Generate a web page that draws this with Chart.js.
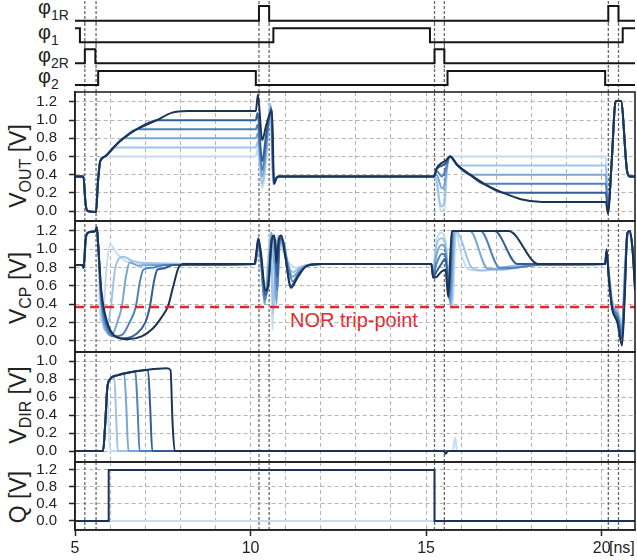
<!DOCTYPE html>
<html>
<head>
<meta charset="utf-8">
<script src="https://cdn.jsdelivr.net/npm/chart.js@4.4.1/dist/chart.umd.min.js"></script>
<style>
body { margin: 0; background: #fff; }
#fig { position: relative; width: 637px; height: 560px; overflow: hidden; font-family: 'Liberation Sans', Arial, sans-serif; color: #222; }
#fig canvas { position: absolute; left: 0; }
.lbl { position: absolute; white-space: nowrap; line-height: 1; }
.lbl sub { font-size: 14px; position: relative; top: 6px; vertical-align: baseline; }
.rot { position: absolute; white-space: nowrap; line-height: 1; font-size: 23px; transform: translate(-50%, -50%) rotate(-90deg); }
.rot sub { font-size: 16px; position: relative; top: 5px; vertical-align: baseline; }
</style>
</head>
<body>
<div id="fig">
  <div class="lbl" style="left:38px; top:-3px; font-size:20px">φ<sub>1R</sub></div>
  <div class="lbl" style="left:38px; top:22px; font-size:20px">φ<sub>1</sub></div>
  <div class="lbl" style="left:38px; top:45px; font-size:20px">φ<sub>2R</sub></div>
  <div class="lbl" style="left:38px; top:66px; font-size:20px">φ<sub>2</sub></div>
  <div class="rot" style="left:18px; top:166px">V<sub>OUT</sub> [V]</div>
  <div class="rot" style="left:18px; top:288px">V<sub>CP</sub> [V]</div>
  <div class="rot" style="left:18px; top:405px">V<sub>DIR</sub> [V]</div>
  <div class="rot" style="left:18px; top:497px">Q [V]</div>
  <div class="lbl" style="left:290px; top:310px; font-size:20px; color:#e8242b">NOR trip-point</div>
  <div class="lbl" style="left:609px; top:540px; font-size:16px">[ns]</div>
</div>
<script>
var FONT = "'Liberation Sans', Arial, sans-serif";
var X_MIN = 5, X_MAX = 20.95;

// time axis
var xTicks = [5, 6, 7, 8, 9, 10, 11, 12, 13, 14, 15, 16, 17, 18, 19, 20];
var xLabels = [5, 10, 15, 20];
var edges = [5.28, 5.6, 10.24, 10.53, 15.24, 15.52, 20.19, 20.48];

// clocks (stepped, value held until next point)
var phi1R = [[5, 0], [10.24, 1], [10.53, 0], [20.19, 1], [20.48, 0], [20.95, 0]];
var phi1 = [[5, 1], [5.14, 0], [10.65, 1], [15.11, 0], [20.6, 1], [20.95, 1]];
var phi2R = [[5, 0], [5.28, 1], [5.58, 0], [15.24, 1], [15.52, 0], [20.95, 0]];
var phi2 = [[5, 0], [5.66, 1], [10.15, 0], [15.61, 1], [20.1, 0], [20.95, 0]];

var voutTicks = [0, 0.2, 0.4, 0.6, 0.8, 1.0, 1.2];
var vcpTicks = [0, 0.2, 0.4, 0.6, 0.8, 1.0, 1.2];
var vdirTicks = [0, 0.2, 0.4, 0.6, 0.8, 1.0];
var qTicks = [0, 0.4, 0.8, 1.2];
var norTrip = 0.37;

// lightest -> darkest
var shades = ['#c6dcf1', '#a0c3e7', '#77a6d7', '#4f82bd', '#335e96', '#1b3354'];

var vout0 = [[5,0.38],[5.24,0.38],[5.3,0.08],[5.36,0],[5.6,-0.01],[5.65,0.3],[5.72,0.55],[5.85,0.6],[10.15,0.6],[10.2,0.68],[10.33,0.25],[10.45,0.6],[10.56,1.2],[10.64,0.3],[10.72,0.36],[10.8,0.38],[15.22,0.38],[15.3,0.3],[15.42,0],[15.52,0.02],[15.6,0.45],[15.68,0.6],[20.12,0.6],[20.18,0],[20.28,0.5],[20.4,1.21],[20.55,1.21],[20.72,0.45],[20.8,0.38],[20.95,0.38]];
var vout1 = [[5,0.38],[5.24,0.38],[5.3,0.08],[5.36,0],[5.6,-0.01],[5.65,0.3],[5.72,0.55],[5.85,0.6],[6.1,0.7],[10.15,0.7],[10.2,0.76],[10.33,0.3],[10.45,0.65],[10.57,1.18],[10.65,0.3],[10.72,0.36],[10.8,0.38],[15.22,0.38],[15.3,0.34],[15.42,0.05],[15.52,0.1],[15.6,0.5],[15.68,0.6],[15.9,0.5],[20.12,0.5],[20.18,0],[20.28,0.5],[20.4,1.21],[20.55,1.21],[20.72,0.45],[20.8,0.38],[20.95,0.38]];
var vout2 = [[5,0.38],[5.24,0.38],[5.3,0.08],[5.36,0],[5.6,-0.01],[5.65,0.3],[5.72,0.55],[5.85,0.6],[6.1,0.7],[6.38,0.8],[10.15,0.8],[10.2,0.85],[10.33,0.38],[10.45,0.7],[10.58,1.16],[10.65,0.3],[10.72,0.36],[10.8,0.38],[15.22,0.38],[15.3,0.4],[15.45,0.25],[15.53,0.3],[15.6,0.52],[15.68,0.6],[15.9,0.5],[16.25,0.4],[20.12,0.4],[20.18,0],[20.28,0.5],[20.4,1.21],[20.55,1.21],[20.72,0.45],[20.8,0.38],[20.95,0.38]];
var vout3 = [[5,0.38],[5.24,0.38],[5.3,0.08],[5.36,0],[5.6,-0.01],[5.65,0.3],[5.72,0.55],[5.85,0.6],[6.1,0.7],[6.38,0.8],[6.76,0.9],[10.15,0.9],[10.2,0.95],[10.33,0.45],[10.45,0.78],[10.59,1.14],[10.66,0.3],[10.73,0.36],[10.8,0.38],[15.22,0.38],[15.3,0.44],[15.45,0.38],[15.55,0.45],[15.68,0.6],[15.9,0.5],[16.25,0.4],[16.65,0.3],[20.12,0.3],[20.18,0],[20.28,0.5],[20.4,1.21],[20.55,1.21],[20.72,0.45],[20.8,0.38],[20.95,0.38]];
var vout4 = [[5,0.38],[5.24,0.38],[5.3,0.08],[5.36,0],[5.6,-0.01],[5.65,0.3],[5.72,0.55],[5.85,0.6],[6.1,0.7],[6.38,0.8],[6.76,0.9],[7.33,1.0],[10.15,1.0],[10.2,1.08],[10.33,0.55],[10.45,0.85],[10.6,1.12],[10.66,0.3],[10.73,0.36],[10.8,0.38],[15.22,0.38],[15.3,0.46],[15.45,0.5],[15.55,0.52],[15.68,0.6],[15.9,0.5],[16.25,0.4],[16.65,0.3],[17.2,0.2],[20.12,0.2],[20.18,-0.01],[20.28,0.5],[20.4,1.21],[20.55,1.21],[20.72,0.45],[20.8,0.38],[20.95,0.38]];
var vout5 = [[5,0.38],[5.24,0.38],[5.3,0.08],[5.36,0],[5.6,-0.01],[5.65,0.3],[5.72,0.55],[5.85,0.6],[6.1,0.7],[6.38,0.8],[6.76,0.9],[7.33,1.0],[7.75,1.08],[8.2,1.1],[10.15,1.1],[10.21,1.28],[10.33,0.78],[10.45,0.95],[10.61,1.11],[10.67,0.3],[10.74,0.36],[10.8,0.38],[15.22,0.38],[15.3,0.47],[15.45,0.53],[15.55,0.55],[15.68,0.6],[15.9,0.5],[16.25,0.4],[16.65,0.3],[17.2,0.2],[17.7,0.13],[18.3,0.1],[20.12,0.1],[20.18,-0.03],[20.28,0.5],[20.4,1.21],[20.55,1.21],[20.72,0.45],[20.8,0.38],[20.95,0.38]];

var vcp0 = [[5,0.83],[5.2,0.83],[5.25,0.8],[5.3,1.1],[5.36,1.18],[5.58,1.2],[5.62,1.24],[5.66,1.05],[5.7,0.4],[5.76,0.2],[5.82,0.37],[5.9,0.8],[6.0,1.05],[6.2,0.95],[6.5,0.86],[7,0.84],[10.12,0.84],[10.16,0.86],[10.22,1.02],[10.3,0.85],[10.4,0.45],[10.5,0.9],[10.57,1.2],[10.62,0.12],[10.7,0.9],[10.8,1.15],[10.95,1.0],[11.1,0.85],[11.3,0.8],[11.6,0.83],[12,0.84],[15.15,0.84],[15.2,0.8],[15.3,1.1],[15.45,1.18],[15.55,1.1],[15.75,0.35],[15.85,1.18],[16.0,0.95],[16.2,0.78],[16.6,0.77],[17.5,0.82],[18.2,0.83],[20.1,0.84],[20.14,0.95],[20.2,0.78],[20.3,0.45],[20.45,0.35],[20.58,0.2],[20.66,0.8],[20.73,1.12],[20.8,1.15],[20.88,1.0],[20.95,0.7]];
var vcp1 = [[5,0.83],[5.2,0.83],[5.25,0.8],[5.3,1.1],[5.36,1.18],[5.58,1.2],[5.62,1.24],[5.66,1.05],[5.75,0.35],[5.85,0.12],[5.95,0.2],[6.02,0.37],[6.15,0.8],[6.38,0.92],[6.6,0.88],[7.0,0.85],[10.12,0.84],[10.16,0.88],[10.22,1.04],[10.3,0.85],[10.4,0.42],[10.5,0.85],[10.58,1.18],[10.64,0.3],[10.72,0.9],[10.8,1.15],[10.92,1.0],[11.05,0.85],[11.2,0.75],[11.4,0.8],[11.6,0.83],[12,0.84],[15.15,0.84],[15.2,0.78],[15.3,1.05],[15.45,1.12],[15.55,1.05],[15.72,0.38],[15.83,1.2],[15.95,1.15],[16.3,0.8],[16.6,0.77],[17.5,0.82],[18.2,0.83],[20.1,0.84],[20.14,0.96],[20.2,0.76],[20.3,0.42],[20.45,0.32],[20.58,0.15],[20.66,0.75],[20.73,1.14],[20.8,1.17],[20.88,1.0],[20.95,0.68]];
var vcp2 = [[5,0.83],[5.2,0.83],[5.25,0.8],[5.3,1.1],[5.36,1.18],[5.58,1.2],[5.62,1.24],[5.66,1.05],[5.75,0.4],[5.9,0.1],[6.05,0.06],[6.2,0.2],[6.33,0.37],[6.45,0.7],[6.56,0.86],[6.8,0.82],[7.2,0.83],[10.12,0.84],[10.16,0.9],[10.22,1.06],[10.3,0.85],[10.4,0.4],[10.5,0.75],[10.6,1.18],[10.68,0.8],[10.74,0.4],[10.82,1.12],[10.92,1.05],[11.05,0.85],[11.2,0.7],[11.4,0.78],[11.6,0.82],[12,0.84],[15.15,0.84],[15.2,0.75],[15.3,0.95],[15.45,1.05],[15.55,1.0],[15.7,0.4],[15.8,1.2],[16.25,1.2],[16.75,0.79],[17.1,0.78],[18.2,0.83],[20.1,0.84],[20.14,0.97],[20.2,0.75],[20.3,0.4],[20.45,0.3],[20.58,0.12],[20.66,0.7],[20.73,1.15],[20.8,1.18],[20.88,1.0],[20.95,0.65]];
var vcp3 = [[5,0.83],[5.2,0.83],[5.25,0.8],[5.3,1.1],[5.36,1.18],[5.58,1.2],[5.62,1.24],[5.66,1.05],[5.75,0.45],[5.9,0.15],[6.1,0.05],[6.35,0.07],[6.55,0.2],[6.73,0.37],[6.85,0.65],[6.95,0.78],[7.2,0.8],[7.6,0.83],[10.12,0.84],[10.16,0.92],[10.22,1.08],[10.3,0.88],[10.4,0.45],[10.52,0.7],[10.62,1.15],[10.7,1.0],[10.76,0.55],[10.84,1.1],[10.92,1.1],[11.05,0.85],[11.2,0.65],[11.4,0.75],[11.6,0.82],[12,0.84],[15.15,0.84],[15.2,0.72],[15.3,0.85],[15.45,0.95],[15.55,0.95],[15.67,0.45],[15.76,1.2],[16.55,1.2],[17.1,0.8],[17.5,0.8],[18.2,0.83],[20.1,0.84],[20.14,0.97],[20.2,0.74],[20.3,0.38],[20.45,0.28],[20.58,0.08],[20.66,0.65],[20.73,1.16],[20.8,1.19],[20.88,1.0],[20.95,0.62]];
var vcp4 = [[5,0.83],[5.2,0.83],[5.25,0.8],[5.3,1.1],[5.36,1.18],[5.58,1.2],[5.62,1.24],[5.66,1.05],[5.75,0.5],[5.9,0.2],[6.1,0.06],[6.4,0.03],[6.75,0.08],[7.0,0.2],[7.13,0.37],[7.25,0.65],[7.35,0.78],[7.5,0.79],[7.8,0.83],[10.12,0.84],[10.16,0.93],[10.22,1.1],[10.3,0.9],[10.42,0.5],[10.52,0.65],[10.62,1.12],[10.7,1.1],[10.76,0.7],[10.83,1.12],[10.9,1.12],[11.0,0.9],[11.15,0.6],[11.35,0.72],[11.6,0.82],[12,0.84],[15.15,0.84],[15.2,0.7],[15.3,0.76],[15.45,0.85],[15.55,0.9],[15.65,0.52],[15.74,1.2],[16.95,1.2],[17.6,0.84],[20.1,0.84],[20.14,0.98],[20.2,0.72],[20.3,0.36],[20.45,0.24],[20.58,0.02],[20.66,0.58],[20.73,1.17],[20.8,1.2],[20.88,1.0],[20.95,0.58]];
var vcp5 = [[5,0.83],[5.2,0.83],[5.25,0.8],[5.3,1.1],[5.36,1.18],[5.58,1.2],[5.62,1.24],[5.66,1.05],[5.75,0.55],[5.85,0.3],[6.0,0.12],[6.2,0.04],[6.5,0.02],[6.9,0.05],[7.2,0.13],[7.45,0.25],[7.65,0.38],[7.8,0.6],[7.95,0.8],[8.1,0.84],[10.12,0.84],[10.16,0.95],[10.22,1.12],[10.3,0.95],[10.42,0.55],[10.5,0.6],[10.6,1.1],[10.68,1.15],[10.74,0.85],[10.8,1.1],[10.88,1.15],[10.98,0.95],[11.15,0.58],[11.35,0.7],[11.6,0.82],[12,0.84],[15.15,0.84],[15.2,0.69],[15.3,0.7],[15.42,0.75],[15.55,0.78],[15.63,0.48],[15.73,1.2],[17.35,1.2],[18.2,0.84],[20.1,0.84],[20.14,1.0],[20.2,0.7],[20.3,0.35],[20.45,0.2],[20.58,-0.05],[20.66,0.5],[20.73,1.18],[20.8,1.2],[20.88,1.0],[20.95,0.55]];

var vdir0 = [[5,0],[5.8,0],[5.86,0.3],[5.92,0.62],[5.96,0.3],[6.0,0],[15.76,0],[15.83,0.15],[15.88,0],[20.95,0]];
var vdir1 = [[5,0],[5.8,0],[5.86,0.3],[5.92,0.7],[6.0,0.8],[6.12,0.82],[6.17,0.4],[6.22,0],[20.95,0]];
var vdir2 = [[5,0],[5.8,0],[5.86,0.3],[5.92,0.7],[6.0,0.8],[6.2,0.84],[6.4,0.86],[6.46,0.5],[6.52,0],[20.95,0]];
var vdir3 = [[5,0],[5.8,0],[5.86,0.3],[5.92,0.7],[6.0,0.8],[6.2,0.84],[6.5,0.87],[6.72,0.88],[6.78,0.5],[6.84,0],[20.95,0]];
var vdir4 = [[5,0],[5.8,0],[5.86,0.3],[5.92,0.7],[6.0,0.8],[6.2,0.84],[6.5,0.87],[7.08,0.9],[7.14,0.5],[7.2,0],[20.95,0]];
var vdir5 = [[5,0],[5.8,0],[5.86,0.3],[5.92,0.7],[6.0,0.8],[6.2,0.84],[6.5,0.87],[7.0,0.9],[7.6,0.92],[7.72,0.9],[7.78,0.3],[7.84,0],[15.5,0],[15.56,-0.03],[15.62,0],[20.95,0]];

var qLow = [[5, 0], [20.95, 0]];
var qOut = [[5, 0], [5.96, 1.2], [15.24, 0], [20.95, 0]];

var fig = document.getElementById('fig');

function addCanvas(top, h) {
	var cv = document.createElement('canvas');
	cv.width = 637;
	cv.height = h;
	cv.style.top = top + 'px';
	fig.appendChild(cv);
	return cv;
}

var framePlugin = {
	id: 'frame',
	afterDraw: function (chart) {
		var a = chart.chartArea, ctx = chart.ctx;
		ctx.save();
		ctx.strokeStyle = '#222';
		ctx.lineWidth = 1.6;
		ctx.strokeRect(a.left, a.top, a.right - a.left, a.bottom - a.top);
		ctx.restore();
	}
};

function edgeSets(lo, hi) {
	return edges.map(function (e) {
		return { data: [[e, lo], [e, hi]], borderColor: '#6a6a6a', borderWidth: 1.3, borderDash: [3, 2],
			pointRadius: 0, tension: 0, order: 20 };
	});
}

function curveSets(list) {
	return list.map(function (d, i) {
		return { data: d, borderColor: shades[i], borderWidth: 2, pointRadius: 0,
			cubicInterpolationMode: 'monotone', order: 10 - i };
	});
}

function clockChart(top, h, lo, hi, data) {
	new Chart(addCanvas(top, h), {
		type: 'line',
		data: { datasets: [{ data: data, borderColor: '#151515', borderWidth: 2, stepped: true, pointRadius: 0, order: 1 }].concat(edgeSets(lo, hi)) },
		options: {
			responsive: false, animation: false, events: [],
			layout: { padding: { left: 75, right: 2, top: 0, bottom: 0 } },
			plugins: { legend: { display: false }, tooltip: { enabled: false } },
			scales: {
				x: { type: 'linear', min: X_MIN, max: X_MAX, display: false },
				y: { type: 'linear', min: lo, max: hi, display: false }
			}
		}
	});
}

function panel(top, h, lo, hi, ticks, sets, bottomAxis) {
	var x = {
		type: 'linear', min: X_MIN, max: X_MAX,
		afterBuildTicks: function (s) { s.ticks = xTicks.map(function (v) { return { value: v }; }); },
		grid: {
			color: '#b4b4b4', lineWidth: 1, drawTicks: bottomAxis, tickLength: 6, tickWidth: 1.5,
			tickColor: function (c) { return c.tick && xLabels.indexOf(c.tick.value) >= 0 ? '#222' : 'rgba(0,0,0,0)'; }
		},
		border: { color: '#222', width: 1.6, dash: [4, 3] },
		ticks: {
			display: bottomAxis, autoSkip: false, maxRotation: 0, padding: 3, color: '#222',
			font: { size: 16, family: FONT },
			callback: function (v) { return xLabels.indexOf(v) >= 0 ? String(v) : ''; }
		}
	};
	if (bottomAxis) x.afterFit = function (s) { s.height = 30; };

	new Chart(addCanvas(top - 1, h + (bottomAxis ? 31 : 2)), {
		type: 'line',
		data: { datasets: sets.concat(edgeSets(lo, hi)) },
		options: {
			responsive: false, animation: false, events: [],
			layout: { padding: { left: 0, right: 2, top: 1, bottom: bottomAxis ? 0 : 1 } },
			plugins: { legend: { display: false }, tooltip: { enabled: false } },
			scales: {
				x: x,
				y: {
					type: 'linear', min: lo, max: hi,
					afterBuildTicks: function (s) { s.ticks = ticks.map(function (v) { return { value: v }; }); },
					afterFit: function (s) { s.width = 75; s.paddingTop = 0; s.paddingBottom = 0; },
					grid: { color: '#b4b4b4', lineWidth: 1, tickLength: 6, tickWidth: 1.5, tickColor: '#222' },
					border: { color: '#222', width: 1.6, dash: [4, 3] },
					ticks: { color: '#222', padding: 12, autoSkip: false, font: { size: 15, family: FONT },
						callback: function (v) { return v.toFixed(1); } }
				}
			}
		},
		plugins: [framePlugin]
	});
}

clockChart(0, 24, -0.224, 1.408, phi1R);
clockChart(24, 22, -0.264, 1.307, phi1);
clockChart(46, 22, -0.336, 1.236, phi2R);
clockChart(68, 24, -0.5, 1.214, phi2);

panel(92, 129, -0.11, 1.31, voutTicks, curveSets([vout0, vout1, vout2, vout3, vout4, vout5]), false);

var cpSets = curveSets([vcp0, vcp1, vcp2, vcp3, vcp4, vcp5]);
cpSets.push({ data: [[X_MIN, norTrip], [X_MAX, norTrip]], borderColor: '#ec2328', borderWidth: 2.5,
	borderDash: [9, 6], pointRadius: 0, tension: 0, order: 0 });
panel(221, 131, -0.12, 1.309, vcpTicks, cpSets, false);

panel(352, 110, -0.122, 1.1, vdirTicks, curveSets([vdir0, vdir1, vdir2, vdir3, vdir4, vdir5]), false);

var qSets = [
	{ data: qLow, borderColor: shades[0], borderWidth: 2, pointRadius: 0, tension: 0, order: 6 },
	{ data: qOut, borderColor: shades[5], borderWidth: 2, pointRadius: 0, stepped: true, order: 1 }
];
panel(462, 68, -0.212, 1.388, qTicks, qSets, true);
</script>
</body>
</html>
